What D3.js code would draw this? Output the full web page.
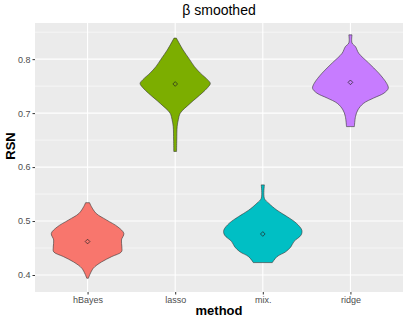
<!DOCTYPE html>
<html lang="en">
<head>
<meta charset="UTF-8">
<title>beta smoothed violins</title>
<script src="https://d3js.org/d3.v7.min.js"></script>
<style>
  body { margin: 0; background: #fff; }
  svg { display: block; font-family: "Liberation Sans", Arial, sans-serif; }
</style>
</head>
<body>
<script>
// categories and summary values
const methods = ["hBayes", "lasso", "mix.", "ridge"];
const fills = ["#F8766D", "#7CAE00", "#00BFC4", "#C77CFF"];
const means = [0.462, 0.754, 0.476, 0.757];
const yTicks = [0.4, 0.5, 0.6, 0.7, 0.8];

// violin outlines: [RSN value, relative half-width]
const hBayesShape = [[0.534,0.05],[0.527,0.095],[0.514,0.22],[0.502,0.48],[0.489,0.77],[0.477,0.92],
  [0.465,0.86],[0.452,0.87],[0.443,0.86],[0.434,0.61],[0.424,0.35],[0.412,0.14],[0.394,0.02]];
const lassoShape = [[0.839,0.03],[0.817,0.2],[0.80,0.36],[0.786,0.49],[0.774,0.64],[0.762,0.82],
  [0.755,0.89],[0.747,0.82],[0.737,0.68],[0.718,0.38],[0.70,0.13],[0.688,0.08],[0.675,0.05],
  [0.65,0.04],[0.629,0.035]];
const mixShape = [[0.567,0.04],[0.542,0.04],[0.533,0.15],[0.520,0.36],[0.508,0.62],[0.496,0.85],
  [0.483,0.99],[0.474,0.97],[0.462,0.79],[0.452,0.71],[0.443,0.58],[0.434,0.36],[0.423,0.24]];
const ridgeShape = [[0.845,0.04],[0.830,0.04],[0.823,0.13],[0.811,0.21],[0.793,0.46],[0.774,0.72],
  [0.755,0.92],[0.746,0.96],[0.737,0.85],[0.728,0.59],[0.718,0.33],[0.706,0.19],[0.694,0.13],[0.675,0.10]];
const shapes = [hBayesShape, lassoShape, mixShape, ridgeShape];

const W = 407, H = 321;
const panel = {left: 35, right: 403, top: 23, bottom: 292};

const svg = d3.select("body").append("svg")
  .attr("width", W).attr("height", H);

// discrete x with 0.6 expansion each side
const xc = d3.scalePoint().domain(methods)
  .range([panel.left, panel.right]).padding(0.6);
const step = xc.step();
const y = d3.scaleLinear().domain([0.3685, 0.867]).range([panel.bottom, panel.top]);

// panel background
svg.append("rect")
  .attr("x", panel.left).attr("y", panel.top)
  .attr("width", panel.right - panel.left).attr("height", panel.bottom - panel.top)
  .attr("fill", "#EBEBEB");

// minor grid
const minor = [0.35, 0.45, 0.55, 0.65, 0.75, 0.85];
svg.append("g").selectAll("line").data(minor).join("line")
  .attr("x1", panel.left).attr("x2", panel.right)
  .attr("y1", d => y(d)).attr("y2", d => y(d))
  .attr("stroke", "#fff").attr("stroke-width", 0.55);

// major grid
svg.append("g").selectAll("line").data(yTicks).join("line")
  .attr("x1", panel.left).attr("x2", panel.right)
  .attr("y1", d => y(d)).attr("y2", d => y(d))
  .attr("stroke", "#fff").attr("stroke-width", 1.1);
svg.append("g").selectAll("line").data(methods).join("line")
  .attr("x1", d => xc(d)).attr("x2", d => xc(d))
  .attr("y1", panel.top).attr("y2", panel.bottom)
  .attr("stroke", "#fff").attr("stroke-width", 1.1);

// violins
const maxHalf = step * 0.45;
methods.forEach((m, i) => {
  const cx = xc(m);
  const area = d3.area()
    .curve(d3.curveCatmullRom)
    .y(d => y(d[0]))
    .x0(d => cx - d[1] * maxHalf)
    .x1(d => cx + d[1] * maxHalf);
  svg.append("path")
    .datum(shapes[i])
    .attr("d", area)
    .attr("fill", fills[i])
    .attr("stroke", "#333333")
    .attr("stroke-width", 0.6);
  // mean marker
  svg.append("path")
    .attr("d", d3.symbol(d3.symbolDiamond2, 14)())
    .attr("transform", `translate(${cx},${y(means[i])})`)
    .attr("fill", "none")
    .attr("stroke", "#222")
    .attr("stroke-width", 0.7);
});

// axes
const yAxis = d3.axisLeft(y).tickValues(yTicks).tickSize(2.5).tickPadding(2).tickFormat(d3.format(".1f"));
const gy = svg.append("g").attr("transform", `translate(${panel.left},0)`).call(yAxis);
gy.select(".domain").remove();
gy.selectAll("line").attr("stroke", "#333");
gy.selectAll("text").attr("fill", "#4D4D4D").style("font-size", "9px");

const xAxis = d3.axisBottom(xc).tickSize(2.5).tickPadding(2);
const gx = svg.append("g").attr("transform", `translate(0,${panel.bottom})`).call(xAxis);
gx.select(".domain").remove();
gx.selectAll("line").attr("stroke", "#333");
gx.selectAll("text").attr("fill", "#4D4D4D").style("font-size", "9px");

// titles
svg.append("text")
  .attr("x", (panel.left + panel.right) / 2).attr("y", 15)
  .attr("text-anchor", "middle")
  .style("font-size", "14px")
  .text("β smoothed");

svg.append("text")
  .attr("x", (panel.left + panel.right) / 2).attr("y", 315)
  .attr("text-anchor", "middle")
  .style("font-size", "13px").style("font-weight", "bold")
  .text("method");

svg.append("text")
  .attr("transform", "translate(15,146) rotate(-90)")
  .attr("text-anchor", "middle")
  .style("font-size", "13px").style("font-weight", "bold")
  .text("RSN");
</script>
</body>
</html>
